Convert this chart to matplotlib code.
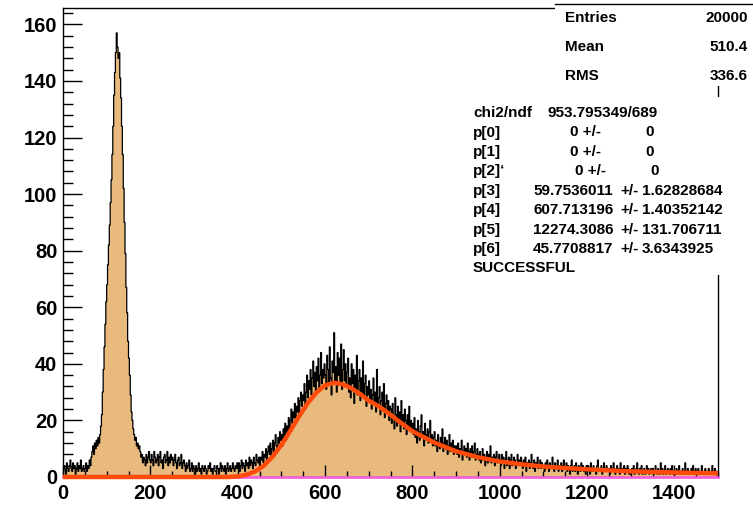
import numpy as np
import matplotlib.pyplot as plt
from matplotlib.patches import Rectangle
from matplotlib.ticker import MultipleLocator

plt.rcParams["font.family"] = ["Liberation Sans", "DejaVu Sans"]
plt.rcParams["font.weight"] = "bold"

# histogram: 750 bins of width 2 on 0..1500, one row = 50 units
bin_edges = np.arange(0, 1502, 2)
counts = [
    2, 4, 3, 1, 5, 3, 2, 4, 6, 3, 2, 5, 3, 4, 1, 3, 5, 2, 4, 3, 6, 2, 3, 4, 2,
    3, 5, 2, 4, 3, 6, 4, 7, 9, 11, 8, 12, 10, 13, 11, 14, 12, 15, 18, 22, 30, 38, 46, 54, 62,
    68, 75, 82, 89, 97, 105, 114, 124, 135, 143, 150, 157, 152, 148, 150, 141, 134, 124, 114, 102, 90, 79, 67, 58, 48,
    42, 36, 29, 23, 20, 17, 15, 13, 14, 11, 12, 10, 11, 9, 7, 8, 5, 7, 6, 4, 8, 5, 7, 9, 6,
    5, 8, 6, 4, 9, 7, 5, 6, 8, 4, 7, 9, 5, 6, 3, 7, 8, 5, 6, 9, 4, 7, 5, 8, 6,
    7, 4, 6, 8, 5, 3, 6, 7, 4, 5, 8, 3, 5, 6, 4, 2, 5, 3, 4, 6, 2, 3, 5, 2, 4,
    3, 1, 4, 2, 3, 5, 2, 3, 1, 4, 3, 2, 4, 3, 1, 2, 4, 3, 5, 2, 3, 1, 3, 4, 2,
    2, 4, 3, 1, 3, 5, 2, 4, 3, 2, 4, 1, 3, 5, 2, 3, 4, 2, 3, 5, 3, 2, 4, 3, 5,
    3, 5, 2, 4, 6, 3, 5, 4, 2, 6, 4, 5, 3, 7, 4, 6, 5, 3, 7, 5, 4, 8, 6, 5, 7,
    4, 7, 6, 9, 5, 8, 7, 10, 6, 9, 11, 8, 12, 7, 10, 13, 9, 12, 15, 11, 10, 14, 12, 16, 13,
    15, 11, 17, 14, 19, 13, 18, 16, 21, 17, 20, 24, 19, 23, 21, 26, 20, 25, 23, 28, 22, 27, 30, 25, 29,
    27, 33, 24, 30, 36, 28, 34, 31, 38, 29, 35, 41, 32, 37, 30, 39, 34, 42, 31, 36, 44, 33, 38, 35, 40,
    36, 31, 43, 38, 33, 46, 35, 29, 41, 37, 51, 34, 39, 30, 44, 36, 42, 33, 47, 31, 38, 45, 34, 40, 32,
    37, 42, 30, 35, 28, 40, 33, 38, 26, 36, 31, 43, 29, 34, 38, 27, 35, 30, 41, 28, 33, 36, 25, 32, 29,
    34, 27, 31, 24, 29, 35, 26, 30, 23, 38, 25, 28, 32, 22, 27, 30, 24, 33, 21, 26, 29, 23, 27, 20, 25,
    24, 19, 26, 21, 17, 28, 22, 18, 25, 20, 23, 16, 27, 19, 22, 17, 24, 20, 15, 22, 18, 25, 17, 20, 16,
    19, 15, 21, 14, 17, 12, 20, 16, 13, 18, 22, 14, 16, 11, 19, 15, 13, 17, 12, 16, 20, 13, 15, 11, 14,
    16, 11, 13, 9, 15, 12, 10, 14, 11, 17, 9, 12, 14, 10, 13, 8, 11, 15, 9, 12, 10, 13, 8, 11, 9,
    11, 8, 12, 7, 10, 9, 13, 6, 9, 11, 8, 10, 7, 12, 9, 6, 10, 8, 11, 7, 9, 12, 6, 8, 10,
    8, 6, 9, 5, 7, 10, 6, 8, 4, 7, 9, 5, 8, 6, 11, 5, 7, 6, 8, 4, 7, 9, 5, 6, 8,
    6, 4, 8, 5, 7, 3, 6, 9, 4, 5, 7, 3, 6, 8, 4, 5, 7, 6, 3, 5, 8, 4, 6, 5, 7,
    5, 3, 6, 4, 7, 2, 5, 4, 6, 3, 5, 8, 4, 3, 6, 2, 5, 4, 7, 3, 4, 6, 3, 5, 4,
    4, 2, 5, 3, 6, 4, 2, 5, 3, 4, 7, 3, 2, 5, 4, 3, 6, 2, 4, 3, 5, 2, 4, 6, 3,
    3, 5, 2, 4, 3, 1, 4, 6, 2, 3, 4, 2, 5, 3, 1, 4, 3, 2, 5, 3, 4, 2, 3, 1, 4,
    2, 4, 3, 1, 5, 2, 3, 4, 2, 3, 1, 4, 6, 2, 3, 2, 4, 1, 3, 5, 2, 3, 4, 2, 3,
    3, 1, 4, 2, 3, 5, 2, 1, 3, 4, 2, 3, 1, 5, 2, 3, 2, 4, 1, 3, 2, 4, 3, 1, 2,
    1, 3, 2, 4, 1, 2, 3, 5, 2, 1, 3, 2, 4, 1, 2, 3, 1, 2, 4, 2, 3, 1, 2, 3, 2,
    3, 1, 2, 4, 2, 1, 3, 2, 1, 5, 2, 3, 1, 2, 4, 1, 2, 3, 2, 1, 3, 2, 4, 1, 2,
    2, 1, 3, 2, 1, 4, 2, 1, 2, 3, 1, 2, 5, 1, 2, 3, 1, 2, 1, 3, 2, 4, 1, 2, 3,
    1, 2, 3, 1, 2, 1, 4, 2, 1, 2, 3, 1, 2, 1, 3, 2, 1, 2, 4, 1, 2, 3, 1, 2, 1,
]

# fitted function
fit_x = [0, 380, 400, 420, 440, 460, 480, 500, 520, 540, 560, 580, 600, 620,
         640, 660, 680, 700, 725, 750, 775, 800, 850, 900, 950, 1000, 1050,
         1100, 1200, 1300, 1400, 1500]
fit_y = [0, 0, 0.2, 0.8, 2.0, 4.0, 7.2, 11.3, 16.2, 21.3, 26.0, 29.8, 32.4,
         33.3, 32.8, 31.4, 29.4, 27.0, 24.8, 22.0, 19.0, 16.2, 12.2, 9.1,
         7.0, 5.5, 4.5, 3.7, 2.7, 2.0, 1.6, 1.3]

# zero line (magenta)
base_x = [0, 1500]
base_y = [0, 0]

stats_names = ["Entries", "Mean", "RMS"]
stats_values = ["20000", "510.4", "336.6"]

par_names = ["p[0]", "p[1]", "p[2]\u2018", "p[3]", "p[4]", "p[5]", "p[6]"]
par_values = ["0", "0", "0", "59.7536011", "607.713196", "12274.3086", "45.7708817"]
par_errors = ["0", "0", "0", "1.62828684", "1.40352142", "131.706711", "3.6343925"]

W, H = 753, 509
fig = plt.figure(figsize=(W / 100, H / 100), dpi=100)
ax = fig.add_axes([63 / W, 1 - 477 / H, (718 - 63) / W, (477 - 8) / H])

ax.stairs(counts, bin_edges, fill=True, color="#E8BA7E", lw=0, zorder=1)
ax.stairs(counts, bin_edges, color="black", lw=0.9, zorder=2)
ax.plot(base_x, base_y, color="#FF5CE6", lw=1.8, zorder=3, clip_on=False)
ax.plot(fit_x, fit_y, color="#FF4A0A", lw=3.2, zorder=4, clip_on=False,
        solid_capstyle="butt")

ax.set_xlim(0, 1500)
ax.set_ylim(0, 165.8)
ax.xaxis.set_major_locator(MultipleLocator(200))
ax.xaxis.set_minor_locator(MultipleLocator(50))
ax.yaxis.set_major_locator(MultipleLocator(20))
ax.yaxis.set_minor_locator(MultipleLocator(4))
ax.tick_params(axis="both", which="both", direction="in", top=False, right=False,
               width=1.0, labelsize=14.5)
ax.tick_params(axis="y", which="major", length=14, pad=4)
ax.tick_params(axis="y", which="minor", length=7)
ax.tick_params(axis="x", which="major", length=9, pad=5)
ax.tick_params(axis="x", which="minor", length=4.5)
for lab in ax.get_xticklabels() + ax.get_yticklabels():
    lab.set_fontweight("bold")
for sp in ax.spines.values():
    sp.set_linewidth(1.0)


def fx(px):
    return px / W


def fy(py):
    return 1 - py / H


# stats box
fig.add_artist(Rectangle((fx(555), fy(86)), (W - 555) / W, (86 - 4) / H,
                         transform=fig.transFigure, facecolor="white",
                         edgecolor="none", zorder=5))
fig.add_artist(plt.Line2D([fx(555), 1], [fy(4), fy(4)], transform=fig.transFigure,
                          color="black", lw=1.0, zorder=6))
for i, (n, v) in enumerate(zip(stats_names, stats_values)):
    yb = fy(22 + 29 * i)
    fig.text(fx(565), yb, n, fontsize=11, fontweight="bold", va="baseline", zorder=7)
    fig.text(fx(748), yb, v, fontsize=11, fontweight="bold", va="baseline",
             ha="right", zorder=7)

# fit results box
fig.add_artist(Rectangle((fx(468), fy(275)), (745 - 468) / W, (275 - 97) / H,
                         transform=fig.transFigure, facecolor="white",
                         edgecolor="none", zorder=5))
fig.text(fx(473), fy(117), "chi2/ndf", fontsize=11, fontweight="bold",
         va="baseline", zorder=7)
fig.text(fx(548), fy(117), "953.795349/689", fontsize=11, fontweight="bold",
         va="baseline", zorder=7)
for i, (n, v, e) in enumerate(zip(par_names, par_values, par_errors)):
    yb = fy(136.5 + 19.4 * i)
    fig.text(fx(473), yb, n, fontsize=11, fontweight="bold", va="baseline", zorder=7)
    if i < 3:
        shift = 5 if i == 2 else 0
        fig.text(fx(570 + shift), yb, v + " +/-", fontsize=11, fontweight="bold",
                 va="baseline", zorder=7)
        fig.text(fx(645 + shift), yb, e, fontsize=11, fontweight="bold",
                 va="baseline", zorder=7)
    else:
        fig.text(fx(533), yb, v, fontsize=11, fontweight="bold", va="baseline", zorder=7)
        fig.text(fx(620), yb, "+/-", fontsize=11, fontweight="bold", va="baseline", zorder=7)
        fig.text(fx(642), yb, e, fontsize=11, fontweight="bold", va="baseline", zorder=7)
fig.text(fx(473), fy(272), "SUCCESSFUL", fontsize=11, fontweight="bold",
         va="baseline", zorder=7)

fig.savefig("out.png", dpi=100)
